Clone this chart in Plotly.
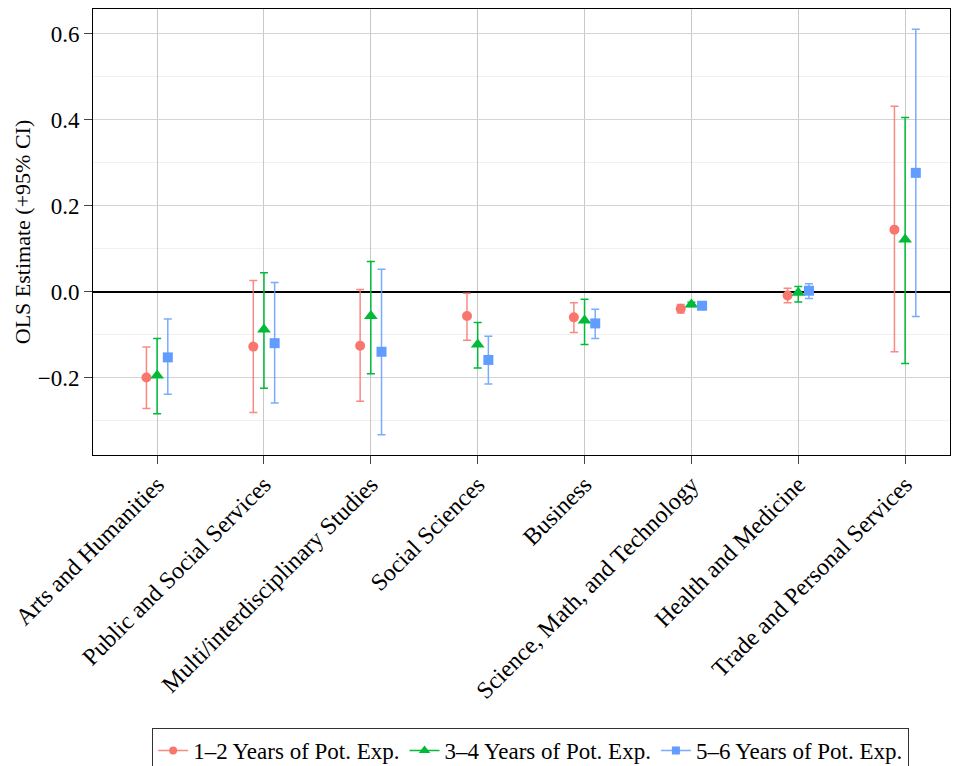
import plotly.graph_objects as go

categories = ["Arts and Humanities", "Public and Social Services", "Multi/interdisciplinary Studies",
              "Social Sciences", "Business", "Science, Math, and Technology",
              "Health and Medicine", "Trade and Personal Services"]

series_names = ["1\u20132 Years of Pot. Exp.", "3\u20134 Years of Pot. Exp.", "5\u20136 Years of Pot. Exp."]

est_12 = [-0.200, -0.128, -0.126, -0.057, -0.060, -0.040, -0.009, 0.144]
lo_12 = [-0.272, -0.281, -0.255, -0.113, -0.095, -0.050, -0.026, -0.140]
hi_12 = [-0.129, 0.026, 0.005, -0.004, -0.026, -0.030, 0.008, 0.431]

est_34 = [-0.195, -0.088, -0.057, -0.123, -0.067, -0.030, -0.003, 0.121]
lo_34 = [-0.284, -0.225, -0.191, -0.178, -0.123, -0.035, -0.024, -0.167]
hi_34 = [-0.109, 0.044, 0.070, -0.072, -0.018, -0.025, 0.012, 0.405]

est_56 = [-0.153, -0.120, -0.140, -0.159, -0.074, -0.033, 0.002, 0.276]
lo_56 = [-0.239, -0.259, -0.333, -0.215, -0.109, -0.037, -0.016, -0.058]
hi_56 = [-0.064, 0.021, 0.052, -0.104, -0.041, -0.029, 0.018, 0.610]

y_ticks = [-0.2, 0.0, 0.2, 0.4, 0.6]
y_tick_labels = ["\u22120.2", "0.0", "0.2", "0.4", "0.6"]
y_minor_ticks = [-0.3, -0.1, 0.1, 0.3, 0.5]

FONT = "Liberation Serif"
colors = ["#F8766D", "#00BA38", "#619CFF"]
bar_colors = ["rgba(248,118,109,0.85)", "rgba(0,186,56,1)", "rgba(97,156,255,0.85)"]
symbols = ["circle", "triangle-up", "square"]
msizes = [10, 12, 10]
offsets = [-0.1, 0.0, 0.1]

fig = go.Figure()
data = [(est_12, lo_12, hi_12), (est_34, lo_34, hi_34), (est_56, lo_56, hi_56)]
for i, (est, lo, hi) in enumerate(data):
    xs = [k + offsets[i] for k in range(len(categories))]
    fig.add_trace(go.Scatter(
        x=xs, y=est, mode="markers", showlegend=False,
        marker=dict(symbol=symbols[i], size=msizes[i], color=colors[i]),
        error_y=dict(type="data", symmetric=False,
                     array=[h - e for h, e in zip(hi, est)],
                     arrayminus=[e - l for e, l in zip(est, lo)],
                     color=bar_colors[i], thickness=1.5, width=4),
    ))
for i in range(3):
    fig.add_trace(go.Scatter(
        x=[None], y=[None], mode="lines+markers", name=series_names[i],
        marker=dict(symbol=symbols[i], size=msizes[i] - 2, color=colors[i]),
        line=dict(color=bar_colors[i], width=1.5),
    ))

# the page body adds an 8px margin, so the figure is sized/positioned to compensate
fig.update_layout(
    width=952, height=758,
    margin=dict(l=85, r=10, t=1, b=311),
    paper_bgcolor="white", plot_bgcolor="white",
    font=dict(family=FONT, color="black", size=18),
    showlegend=True,
    legend=dict(orientation="h", xref="container", yref="container",
                x=0.549, xanchor="center", y=0.0501, yanchor="top",
                bordercolor="#333333", borderwidth=1, font=dict(size=23, family=FONT),
                itemwidth=30, tracegroupgap=0),
)
fig.update_xaxes(
    range=[-0.6, 7.42], tickmode="array", tickvals=list(range(len(categories))),
    ticktext=categories, tickangle=-45, tickfont=dict(size=24, family=FONT),
    showgrid=True, gridcolor="#c8c8c8", gridwidth=1, automargin=False,
    ticks="outside", ticklen=8, tickcolor="#444444", ticklabelstandoff=-3,
    showline=True, linecolor="black", linewidth=1, mirror=True, zeroline=False,
)
fig.update_yaxes(
    range=[-0.38, 0.657], tickmode="array", tickvals=y_ticks,
    ticktext=y_tick_labels, automargin=False,
    tickfont=dict(size=23, family=FONT),
    title=dict(text="OLS Estimate (+95% CI)", font=dict(size=22, family=FONT), standoff=0),
    showgrid=True, gridcolor="#d4d4d4", gridwidth=1,
    minor=dict(showgrid=True, gridcolor="#f0f0f0", gridwidth=1, tickvals=y_minor_ticks),
    ticks="outside", ticklen=8, tickcolor="#444444",
    showline=True, linecolor="black", linewidth=1, mirror=True,
    zeroline=True, zerolinecolor="black", zerolinewidth=1.5,
)

fig.write_html("out.html")
